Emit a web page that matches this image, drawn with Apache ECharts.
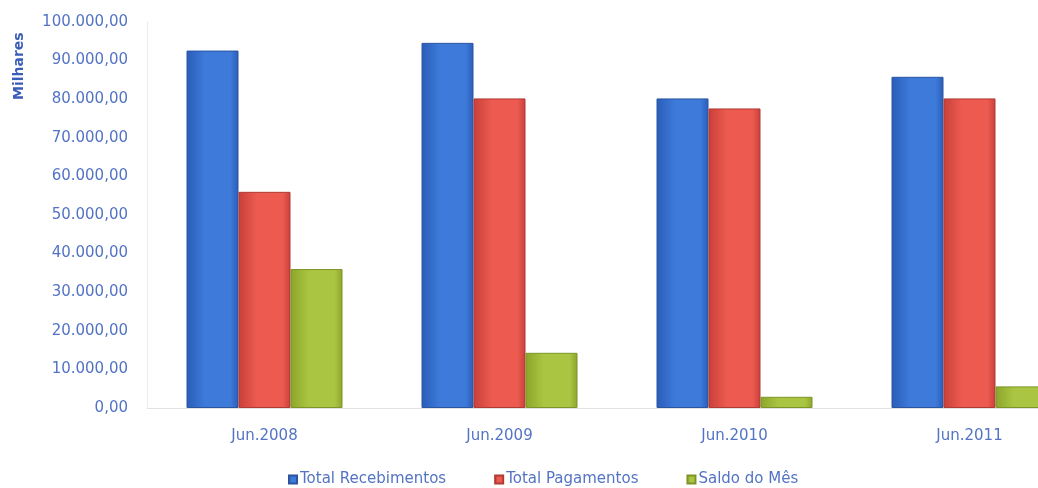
<!DOCTYPE html>
<html>
<head>
<meta charset="utf-8">
<script src="https://cdn.jsdelivr.net/npm/echarts@6/dist/echarts.min.js"></script>
<style>html,body{margin:0;padding:0;background:#fff;}#c{width:1038px;height:488px;}</style>
</head>
<body>
<div id="c"></div>
<script>
var categories = ['Jun.2008', 'Jun.2009', 'Jun.2010', 'Jun.2011'];
var recebimentos = [92600, 94600, 80200, 85800];
var pagamentos = [56000, 80200, 77600, 80200];
var saldo = [36000, 14300, 2900, 5600];
var seriesNames = ['Total Recebimentos', 'Total Pagamentos', 'Saldo do Mês'];

var textColor = '#5373c4';
var font = 'DejaVu Sans';

function grad(edge, mid) {
  return new echarts.graphic.LinearGradient(0, 0, 1, 0, [
    {offset: 0, color: edge}, {offset: 0.35, color: mid}, {offset: 0.85, color: mid}, {offset: 1, color: edge}
  ]);
}

function fmt(v) {
  var s = Math.round(v).toString().replace(/\B(?=(\d{3})+(?!\d))/g, '.');
  return s + ',00';
}

var chart = echarts.init(document.getElementById('c'), null, {renderer: 'canvas'});
chart.setOption({
  animation: false,
  backgroundColor: '#ffffff',
  grid: {left: 147, top: 22, width: 940, height: 386, containLabel: false, outerBoundsMode: 'none'},
  legend: {
    left: 283, top: 467,
    itemWidth: 8, itemHeight: 8, itemGap: 48,
    icon: 'rect',
    textStyle: {color: textColor, fontFamily: font, fontSize: 15, padding: [0, 0, 0, -2]},
    data: seriesNames
  },
  graphic: [{
    type: 'text', rotation: Math.PI / 2,
    style: {text: 'Milhares', fill: '#3a5db8', font: 'bold 14px "DejaVu Sans"'},
    x: 12, y: 100
  }],
  xAxis: {
    type: 'category', data: categories,
    axisLine: {show: true, lineStyle: {color: '#e2e2e2', width: 1}},
    axisTick: {show: false},
    axisLabel: {color: textColor, fontFamily: font, fontSize: 15, margin: 21}
  },
  yAxis: {
    type: 'value', min: 0, max: 100000, interval: 10000,
    axisLine: {show: true, lineStyle: {color: '#ececec', width: 1}},
    axisTick: {show: false},
    splitLine: {show: false},
    axisLabel: {color: textColor, fontFamily: font, fontSize: 15, margin: 19, formatter: fmt}
  },
  series: [
    {name: seriesNames[0], type: 'bar', data: recebimentos, barWidth: 52, barGap: '0%',
     itemStyle: {color: grad('#2a5cb8', '#3d7ad9'), borderColor: '#2c55a0', borderWidth: 1}},
    {name: seriesNames[1], type: 'bar', data: pagamentos, barWidth: 52, barGap: '0%',
     itemStyle: {color: grad('#c8403a', '#ec5a50'), borderColor: '#b03a34', borderWidth: 1}},
    {name: seriesNames[2], type: 'bar', data: saldo, barWidth: 52, barGap: '0%',
     itemStyle: {color: grad('#8ca52c', '#aac541'), borderColor: '#7d9428', borderWidth: 1}}
  ]
});
</script>
</body>
</html>
